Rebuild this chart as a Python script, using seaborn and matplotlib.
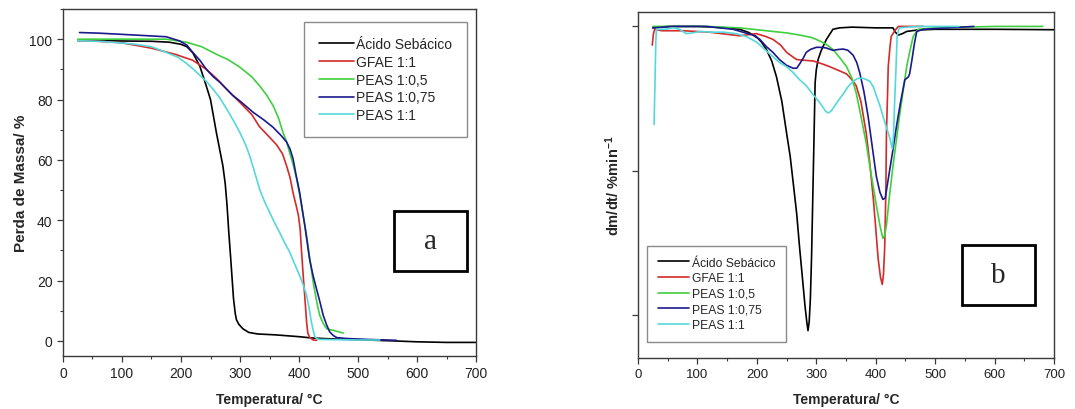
import matplotlib
matplotlib.use("Agg")
import matplotlib.pyplot as plt
import seaborn as sns
import pandas as pd
from matplotlib.ticker import MultipleLocator, FixedLocator

sns.set_style("ticks")
plt.rcParams['font.family'] = ['Liberation Sans', 'DejaVu Sans']
plt.rcParams['mathtext.fontset'] = 'custom'
plt.rcParams['mathtext.rm'] = 'Liberation Sans:bold'
plt.rcParams['mathtext.bf'] = 'Liberation Sans:bold'
plt.rcParams['mathtext.it'] = 'Liberation Sans:bold'

# Nomes e cores das amostras
AMOSTRAS = ["Ácido Sebácico", "GFAE 1:1", "PEAS 1:0,5", "PEAS 1:0,75", "PEAS 1:1"]
CORES = ["#000000", "#d42a2a", "#3fcf3f", "#1a1a8c", "#55d8dc"]

# ---- (a) TG: perda de massa (%) ----
tg_seb_t = [25, 100, 150, 180, 200, 210, 220, 232, 242, 250, 260, 266, 271, 275, 278, 281, 284, 289, 292, 294, 298, 305, 315, 330, 360, 400, 420, 450, 500, 560, 600, 650, 700]
tg_seb_m = [99.6, 99.4, 99.3, 99.0, 98.3, 97.5, 95.5, 91, 85, 80, 69, 63, 58, 52, 45, 36, 28, 14, 9, 7, 5.5, 4.0, 2.8, 2.3, 2.0, 1.4, 1.0, 0.7, 0.4, 0.0, -0.3, -0.5, -0.5]

tg_gfae_t = [25, 60, 100, 150, 190, 220, 243, 260, 277, 300, 320, 333, 350, 362, 372, 379, 385, 390, 395, 399, 402, 404, 407, 410, 413, 415, 418, 424, 430]
tg_gfae_m = [99.5, 99.3, 98.8, 97, 95, 93, 90, 87, 83.5, 79, 75, 71, 67.5, 65, 62, 58, 54, 49, 45, 41.6, 37, 30.5, 22, 14, 6, 2.5, 1.2, 0.3, 0.2]

tg_p05_t = [25, 100, 175, 209, 235, 260, 280, 300, 320, 333, 345, 356, 365, 373, 379, 384, 390, 396, 402, 407, 412, 416, 420, 424, 430, 435, 441, 447, 458, 475]
tg_p05_m = [100, 100, 100, 99, 97.5, 95, 93.2, 90.7, 87.5, 84.6, 81.5, 78, 74, 69, 66, 62.5, 58.5, 53.7, 47.5, 41.6, 36, 30.5, 25, 19.5, 13, 8.5, 5.8, 4, 3.5, 2.6]

tg_p075_t = [28, 60, 119, 175, 198, 210, 220, 232, 243, 255, 266, 277, 288, 300, 322, 340, 356, 370, 379, 385, 390, 395, 401, 406, 410, 414, 418, 424, 430, 436, 441, 447, 452, 458, 464, 480, 515, 565]
tg_p075_m = [102.2, 102, 101.4, 100.8, 99.4, 98, 95.6, 93, 90, 87.5, 85.7, 83.5, 81.3, 79.5, 75.8, 73.3, 70.8, 68, 65.9, 63.5, 60.3, 55, 49.3, 43, 38, 32.5, 27, 21.5, 17, 12.5, 8.5, 5.2, 3, 1.8, 1.1, 0.8, 0.5, 0.2]

tg_p1_t = [25, 70, 119, 150, 175, 195, 209, 220, 232, 243, 254, 266, 277, 288, 300, 310, 317, 325, 333, 342, 350, 358, 367, 375, 384, 392, 401, 407, 413, 417, 421, 424, 427, 431, 435, 460, 500, 537]
tg_p1_m = [99.5, 99.2, 98.4, 97.5, 95.6, 94, 92, 90.2, 88, 86, 83.5, 80.5, 77, 73.3, 69, 64.8, 61, 55.8, 50.4, 46, 42.7, 39.4, 36, 32.8, 29.5, 25.8, 21.7, 18.6, 15, 11, 6.3, 3.5, 1.3, 0.7, 0.5, 0.4, 0.3, 0.3]

# ---- (b) DTG: dm/dt (unidades arbitrárias) ----
dtg_seb_t = [25, 50, 100, 150, 171, 185, 199, 208, 216, 225, 233, 242, 250, 256, 261, 267, 272, 277, 281, 284, 286, 288, 290, 292, 294, 296, 298, 300, 303, 308, 317, 328, 339, 360, 400, 429, 433, 438, 445, 452, 470, 500, 600, 700]
dtg_seb_v = [-0.01, 0, 0, -0.01, -0.02, -0.04, -0.07, -0.11, -0.16, -0.24, -0.35, -0.52, -0.74, -0.9, -1.08, -1.3, -1.54, -1.76, -1.94, -2.05, -2.11, -2.05, -1.89, -1.6, -1.2, -0.8, -0.39, -0.3, -0.23, -0.17, -0.09, -0.02, -0.01, -0.005, -0.01, -0.01, -0.04, -0.06, -0.05, -0.035, -0.025, -0.02, -0.02, -0.023]

dtg_gfae_t = [24, 26, 28, 40, 76, 120, 171, 199, 215, 227, 240, 250, 260, 267, 280, 295, 310, 323, 340, 351, 360, 367, 375, 384, 390, 396, 400, 404, 408, 411, 413, 415, 417, 418, 420, 421, 424, 426, 432, 438, 460, 480]
dtg_gfae_v = [-0.13, -0.05, -0.02, -0.03, -0.03, -0.04, -0.065, -0.05, -0.07, -0.09, -0.13, -0.18, -0.21, -0.23, -0.235, -0.24, -0.26, -0.28, -0.31, -0.33, -0.37, -0.41, -0.52, -0.74, -0.95, -1.2, -1.4, -1.61, -1.74, -1.79, -1.72, -1.54, -1.15, -0.74, -0.45, -0.28, -0.14, -0.07, -0.03, 0, 0, 0]

dtg_p05_t = [25, 60, 115, 171, 227, 250, 272, 290, 300, 315, 328, 340, 351, 360, 367, 375, 384, 392, 401, 407, 412, 415, 418, 423, 429, 435, 440, 446, 452, 458, 463, 471, 500, 600, 681]
dtg_p05_v = [0, 0, 0, -0.01, -0.035, -0.045, -0.06, -0.075, -0.09, -0.12, -0.16, -0.22, -0.28, -0.36, -0.46, -0.62, -0.81, -1.02, -1.24, -1.38, -1.47, -1.45, -1.38, -1.18, -0.97, -0.78, -0.62, -0.45, -0.28, -0.16, -0.07, -0.02, -0.01, 0, 0]

dtg_p075_t = [25, 60, 115, 160, 193, 205, 216, 227, 238, 250, 261, 267, 272, 278, 283, 290, 300, 310, 317, 328, 337, 345, 353, 362, 368, 373, 380, 387, 394, 401, 407, 412, 416, 421, 428, 435, 442, 449, 452, 455, 457, 459, 461, 465, 469, 480, 520, 565]
dtg_p075_v = [-0.01, 0, 0, -0.02, -0.06, -0.09, -0.14, -0.18, -0.23, -0.27, -0.29, -0.29, -0.26, -0.22, -0.18, -0.16, -0.145, -0.145, -0.15, -0.166, -0.16, -0.157, -0.165, -0.2, -0.25, -0.32, -0.45, -0.62, -0.83, -1.04, -1.15, -1.2, -1.19, -1.06, -0.88, -0.69, -0.52, -0.37, -0.36, -0.35, -0.33, -0.28, -0.23, -0.12, -0.035, -0.02, -0.01, 0]

dtg_p1_t = [27, 28, 30, 31, 45, 59, 70, 81, 92, 104, 125, 143, 165, 182, 200, 216, 227, 238, 250, 261, 272, 283, 292, 300, 306, 311, 316, 320, 324, 328, 336, 345, 353, 362, 370, 379, 385, 390, 396, 401, 407, 412, 418, 424, 428, 430, 432, 434, 436, 438, 440, 470, 500, 540]
dtg_p1_v = [-0.68, -0.5, -0.1, -0.02, -0.02, -0.01, -0.02, -0.05, -0.045, -0.035, -0.04, -0.04, -0.05, -0.07, -0.11, -0.17, -0.21, -0.25, -0.28, -0.32, -0.37, -0.41, -0.46, -0.5, -0.53, -0.56, -0.59, -0.6, -0.59, -0.57, -0.52, -0.47, -0.42, -0.38, -0.36, -0.36, -0.37, -0.38, -0.42, -0.48, -0.55, -0.62, -0.7, -0.78, -0.85, -0.75, -0.5, -0.3, -0.07, -0.03, -0.01, 0, 0, 0]

TG = [(tg_seb_t, tg_seb_m), (tg_gfae_t, tg_gfae_m), (tg_p05_t, tg_p05_m), (tg_p075_t, tg_p075_m), (tg_p1_t, tg_p1_m)]
DTG = [(dtg_seb_t, dtg_seb_v), (dtg_gfae_t, dtg_gfae_v), (dtg_p05_t, dtg_p05_v), (dtg_p075_t, dtg_p075_v), (dtg_p1_t, dtg_p1_v)]


def long_df(series):
    """Junta as curvas num DataFrame longo"""
    partes = []
    for nome, (t, v) in zip(AMOSTRAS, series):
        partes.append(pd.DataFrame({'T': t, 'v': v, 'amostra': nome}))
    return pd.concat(partes, ignore_index=True)


def estilo_eixo(ax, ytick_size):
    for s in ax.spines.values():
        s.set_visible(True)
        s.set_color("#3a3a3a")
        s.set_linewidth(1.0)
    ax.set_xlim(0, 700)
    ax.xaxis.set_major_locator(MultipleLocator(100))
    ax.xaxis.set_minor_locator(MultipleLocator(50))
    ax.tick_params(which='major', direction='out', length=4, width=0.9, colors='#3a3a3a', labelcolor='#222222', labelsize=ytick_size)
    ax.tick_params(which='minor', direction='out', length=2.5, width=0.8, colors='#3a3a3a')
    ax.set_xlabel("Temperatura/ °C", fontsize=10, weight='bold', labelpad=8)


def caixa_letra(ax, letra, x0, y0, w, h):
    ax.add_patch(plt.Rectangle((x0, y0), w, h, transform=ax.transAxes, fill=False,
                               edgecolor='black', linewidth=2.0, zorder=5))
    ax.text(x0 + w / 2, y0 + h / 2, letra, transform=ax.transAxes, ha='center', va='center',
            fontsize=21, family='Liberation Serif', zorder=6)


fig = plt.figure(figsize=(10.75, 4.10), dpi=100)
fig.patch.set_facecolor('white')
paleta = dict(zip(AMOSTRAS, CORES))

# ---- painel a ----
ax1 = fig.add_axes([0.0586, 0.1293, 0.3842, 0.8463])
sns.lineplot(data=long_df(TG), x='T', y='v', hue='amostra', hue_order=AMOSTRAS, palette=paleta,
             sort=False, estimator=None, linewidth=1.2, ax=ax1)
estilo_eixo(ax1, 10)
ax1.set_ylim(-5, 110)
ax1.yaxis.set_major_locator(MultipleLocator(20))
ax1.yaxis.set_minor_locator(MultipleLocator(10))
ax1.set_ylabel("Perda de Massa/ %", fontsize=11, weight='bold', labelpad=1)
leg1 = ax1.legend(loc='upper right', bbox_to_anchor=(0.978, 0.962), fontsize=10, frameon=True,
                  fancybox=False, edgecolor='#8a8a8a', framealpha=1, handlelength=2.5,
                  handletextpad=0.2, labelspacing=0.28, borderpad=1.05, borderaxespad=0)
leg1.get_frame().set_linewidth(1.0)
caixa_letra(ax1, "a", 0.801, 0.245, 0.177, 0.173)

# ---- painel b ----
ax2 = fig.add_axes([0.5935, 0.1244, 0.3870, 0.8439])
sns.lineplot(data=long_df(DTG), x='T', y='v', hue='amostra', hue_order=AMOSTRAS, palette=paleta,
             sort=False, estimator=None, linewidth=1.2, ax=ax2)
estilo_eixo(ax2, 9.5)
ax2.set_ylim(-2.3, 0.1)
ax2.yaxis.set_major_locator(FixedLocator([-2, -1, 0]))
ax2.set_yticklabels([])
ax2.set_ylabel(r"dm/dt/ %min$^{-1}$", fontsize=10.5, weight='bold', labelpad=4)
leg2 = ax2.legend(loc='lower left', bbox_to_anchor=(0.022, 0.046), fontsize=8.7, frameon=True,
                  fancybox=False, edgecolor='#8a8a8a', framealpha=1, handlelength=2.6,
                  handletextpad=0.2, labelspacing=0.3, borderpad=0.9, borderaxespad=0)
leg2.get_frame().set_linewidth(1.0)
caixa_letra(ax2, "b", 0.779, 0.153, 0.175, 0.174)

plt.savefig('out.png', dpi=100, facecolor='white')
